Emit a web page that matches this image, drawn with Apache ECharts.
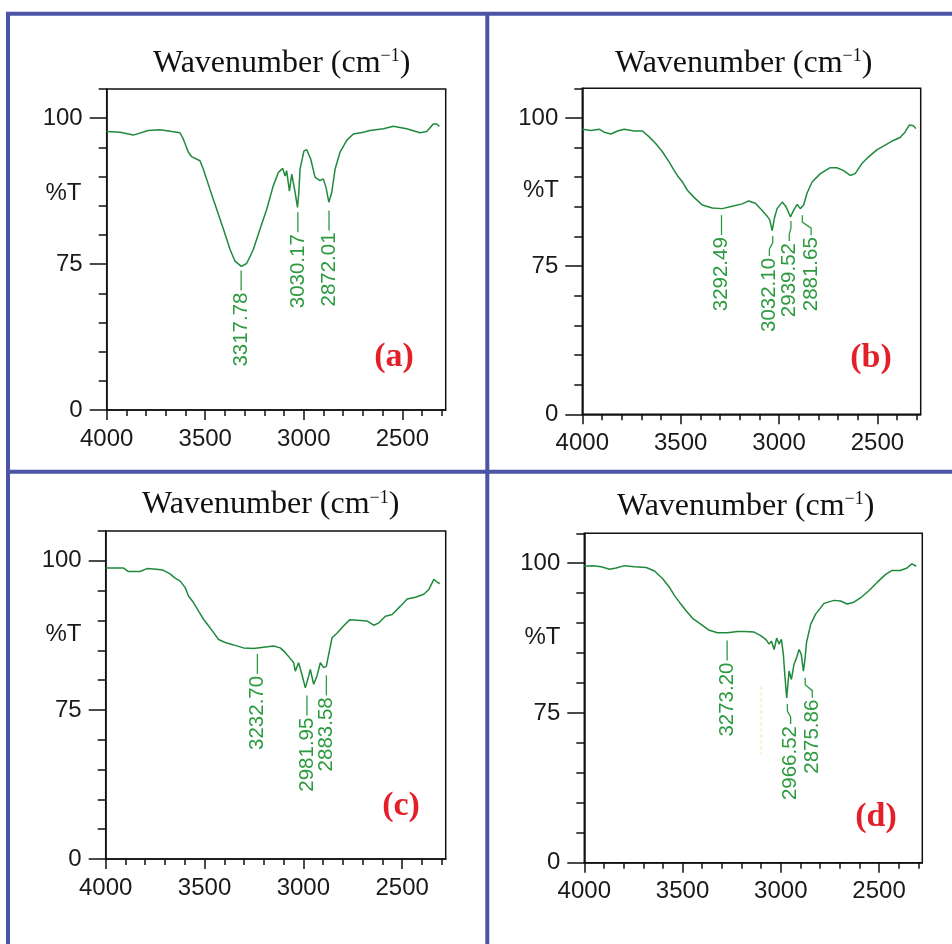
<!DOCTYPE html>
<html>
<head>
<meta charset="utf-8">
<script src="https://cdn.jsdelivr.net/npm/echarts@6/dist/echarts.min.js"></script>
<style>
html,body{margin:0;padding:0;background:#fff;}
#chart{width:952px;height:944px;}
</style>
</head>
<body>
<div id="chart"></div>
<script>
// ---------------- DATA ----------------
const xTickValues = [4000, 3500, 3000, 2500];
const yTickValues = [50, 75, 100];
const yTickLabels = ['0', '75', '100'];
const panelLetters = ['(a)', '(b)', '(c)', '(d)'];

// Panel (a)
const wnA = [4000,3932,3865,3789,3730,3670,3628,3611,3586,3569,3527,3510,3476,3442,3408,3374,3349,3317,3290,3256,3222,3188,3155,3129,3107,3095,3087,3073,3061,3053,3044,3032,3025,3019,2999,2985,2965,2943,2918,2901,2887,2873,2858,2841,2816,2782,2749,2698,2664,2596,2546,2478,2410,2376,2343,2326,2312];
const tA  = [97.7,97.6,97.1,97.9,98.0,97.7,97.5,96.4,94.2,93.4,92.7,91.3,87.8,84.4,81.0,77.5,75.5,74.6,75.1,77.5,81.0,84.4,88.4,90.7,91.4,90.1,91.0,87.5,90.4,90.7,87.3,84.7,87.3,91.3,94.4,94.6,93.0,89.9,89.3,89.6,88.1,85.6,87.3,91.3,94.2,96.2,97.3,97.6,97.9,98.2,98.6,98.2,97.5,97.7,99.0,99.0,98.6];
const peaksA = ['3317.78', '3030.17', '2872.01'];
const peakTA = [73.9, 83.9, 84.2];
const peakTextWnA = [3317.78, 3030.17, 2872.01];

// Panel (b)
const wnB = [4000,3956,3914,3889,3855,3821,3787,3736,3694,3660,3627,3593,3559,3534,3517,3491,3466,3432,3390,3339,3289,3238,3187,3154,3120,3086,3060,3047,3035,3022,3010,2984,2964,2942,2926,2908,2892,2875,2858,2832,2790,2740,2706,2672,2638,2613,2579,2546,2503,2461,2419,2385,2360,2338,2317,2305];
const tB  = [98.1,97.9,98.1,97.6,97.3,97.8,98.1,97.8,97.8,96.8,95.7,94.3,92.6,91.2,90.3,89.2,87.8,86.6,85.3,84.8,84.7,85.1,85.5,86.0,85.6,84.4,83.4,82.8,81.0,83.3,84.7,85.8,85.0,83.3,84.4,85.4,84.7,85.3,87.3,89.2,90.6,91.6,91.6,91.1,90.3,90.6,92.3,93.4,94.6,95.4,96.2,96.7,97.6,98.8,98.7,98.2];
const peaksB = ['3292.49', '3032.10', '2939.52', '2881.65'];
const peakTB = [83.6, 80.1, 82.6, 83.6];
const peakTextWnB = [3292.49, 3049, 2948, 2837];

// Panel (c)
const wnC = [4000,3911,3885,3826,3792,3742,3708,3674,3649,3623,3598,3581,3556,3531,3505,3480,3455,3429,3395,3353,3303,3252,3201,3151,3117,3091,3066,3049,3041,3024,3007,2990,2973,2965,2948,2931,2914,2897,2884,2872,2855,2829,2796,2766,2711,2677,2644,2618,2585,2551,2509,2475,2433,2391,2365,2340,2323,2310];
const tC  = [98.8,98.8,98.2,98.2,98.7,98.6,98.4,97.8,97.1,96.6,95.5,94.1,93.0,91.6,90.2,89.1,88.0,86.8,86.3,85.9,85.4,85.3,85.5,85.7,85.4,84.6,83.6,82.9,81.5,82.9,80.9,78.7,80.7,81.8,79.3,80.7,82.9,82.1,82.3,84.3,87.1,87.9,89.1,90.1,90.0,89.9,89.2,89.6,90.7,91.0,92.4,93.6,93.9,94.4,95.2,96.9,96.4,96.2];
const peaksC = ['3232.70', '2981.95', '2883.58'];
const peakTC = [84.4, 77.4, 80.8];
const peakTextWnC = [3232.70, 2981.95, 2883.58];

// Panel (d)
const wnD = [4000,3956,3914,3871,3838,3795,3744,3685,3643,3601,3567,3541,3516,3483,3449,3406,3364,3322,3271,3220,3186,3136,3102,3077,3059,3048,3034,3021,3009,2997,2987,2980,2970,2958,2946,2933,2920,2907,2896,2885,2877,2869,2848,2823,2780,2730,2696,2662,2628,2595,2552,2510,2468,2434,2392,2358,2333,2311];
const tD  = [99.5,99.6,99.4,99.0,99.2,99.6,99.4,99.3,98.7,97.4,96.0,94.6,93.5,92.1,90.8,89.8,88.8,88.4,88.4,88.6,88.6,88.5,87.9,87.3,86.5,87.0,85.6,87.5,86.5,87.3,84.8,81.5,77.5,82.0,80.6,83.1,84.2,85.6,84.8,82.0,84.0,86.8,89.8,91.5,93.3,93.8,93.7,93.2,93.5,94.2,95.4,96.8,98.1,98.8,98.8,99.2,99.9,99.5];
const peaksD = ['3273.20', '2966.52', '2875.86'];
const peakTD = [87.1, 76.5, 80.9];
const peakTextWnD = [3273.20, 2950, 2840];
const faintDashD = [[3100, 79.5], [3100, 68]];

// ---------------- LAYOUT / STYLE ----------------
const X_MIN = 4000, X_MAX = 2280, Y_MIN = 50, Y_MAX = 105;
const GRIDS = [
  {left:106.7, top:89,    width:339,   height:321},
  {left:582.3, top:88.3,  width:338.4, height:326},
  {left:105.7, top:531,   width:340,   height:328},
  {left:584.3, top:533.3, width:338,   height:329.4}
];
const TITLE_POS  = [[153,63.5],[615,63.5],[142,505],[617,506.5]];
const PCT_POS    = [[63.5,193],[541,190],[63.5,634],[542.5,637.5]];
const LETTER_POS = [[394,357],[871,358],[401,806],[876,817]];

const CURVE = '#1f8a3b';
const LABELG = '#2c9a3e';
const AXIS = '#111';
const TXT = '#1a1a1a';
const SANS = '"Liberation Sans", Arial, sans-serif';
const SERIF = '"Liberation Serif", "Times New Roman", serif';
const BORDER = '#4a55a6';

const panels = [
  {wn:wnA, t:tA, peaks:peaksA, peakT:peakTA, textWn:peakTextWnA},
  {wn:wnB, t:tB, peaks:peaksB, peakT:peakTB, textWn:peakTextWnB},
  {wn:wnC, t:tC, peaks:peaksC, peakT:peakTC, textWn:peakTextWnC},
  {wn:wnD, t:tD, peaks:peaksD, peakT:peakTD, textWn:peakTextWnD}
];

const minorX = [];
for (let v = 4000; v > X_MAX + 10; v -= 100) minorX.push(-v);
const minorY = [];
for (let v = Y_MIN; v <= Y_MAX; v += 5) minorY.push(v);

const grid = [], xAxis = [], yAxis = [], series = [], graphic = [];

panels.forEach((p, i) => {
  const g = GRIDS[i];
  grid.push({left:g.left, top:g.top, width:g.width, height:g.height, show:true,
    borderColor:AXIS, borderWidth:1.5, backgroundColor:'transparent'});
  xAxis.push({gridIndex:i, type:'value', position:'bottom', min:-X_MIN, max:-X_MAX,
    axisLine:{show:true, onZero:false, lineStyle:{color:AXIS, width:1.5}},
    axisTick:{show:true, customValues:minorX, length:6, lineStyle:{color:AXIS, width:1.5}},
    axisLabel:{show:false}, splitLine:{show:false}});
  xAxis.push({gridIndex:i, type:'value', position:'bottom', min:-X_MIN, max:-X_MAX,
    axisLine:{show:false, onZero:false},
    axisTick:{show:true, customValues:xTickValues.map(v => -v), length:10, lineStyle:{color:AXIS, width:1.5}},
    axisLabel:{show:true, customValues:xTickValues.map(v => -v), formatter:v => String(-v),
      fontSize:24, fontFamily:SANS, color:TXT, margin:17},
    splitLine:{show:false}});
  yAxis.push({gridIndex:i, type:'value', position:'left', min:Y_MIN, max:Y_MAX,
    axisLine:{show:true, onZero:false, lineStyle:{color:AXIS, width:1.5}},
    axisTick:{show:true, customValues:minorY, length:8, lineStyle:{color:AXIS, width:1.5}},
    axisLabel:{show:false}, splitLine:{show:false}});
  yAxis.push({gridIndex:i, type:'value', position:'left', min:Y_MIN, max:Y_MAX,
    axisLine:{show:false, onZero:false},
    axisTick:{show:true, customValues:yTickValues, length:17, lineStyle:{color:AXIS, width:1.5}},
    axisLabel:{show:true, customValues:yTickValues,
      formatter:v => yTickLabels[yTickValues.indexOf(v)],
      fontSize:24, fontFamily:SANS, color:TXT, margin:24},
    splitLine:{show:false}});

  series.push({type:'line', xAxisIndex:2*i, yAxisIndex:2*i, showSymbol:false, symbol:'none',
    silent:true, z:3, lineStyle:{color:CURVE, width:1.5},
    data:p.wn.map((w, k) => [-w, p.t[k]])});

  series.push({type:'custom', xAxisIndex:2*i, yAxisIndex:2*i, silent:true, z:5,
    data:p.peaks.map((s, k) => [-parseFloat(s), p.peakT[k], -p.textWn[k]]),
    renderItem:function(params, api){
      const a = api.coord([api.value(0), api.value(1)]);
      const tx = api.coord([api.value(2), api.value(1)])[0];
      const y0 = a[1], y1 = y0 + 20;
      const pts = Math.abs(tx - a[0]) < 0.6
        ? [[a[0], y0], [a[0], y1]]
        : [[a[0], y0], [a[0], y0 + 7], [tx, y0 + 13], [tx, y1]];
      return {type:'group', children:[
        {type:'polyline', shape:{points:pts}, style:{stroke:LABELG, lineWidth:1.3, fill:'none'}},
        {type:'text', x:tx, y:y1 + 2, rotation:Math.PI / 2,
          style:{text:p.peaks[params.dataIndex], fill:LABELG, font:'20.5px ' + SANS,
            align:'right', verticalAlign:'middle'}}
      ]};
    }});

  graphic.push({type:'text', x:TITLE_POS[i][0], y:TITLE_POS[i][1], silent:true,
    style:{text:'{a|Wavenumber (cm}{s|\u22121}{a|)}', align:'left', verticalAlign:'middle',
      rich:{
        a:{fontSize:32, fontFamily:SERIF, fill:'#111', lineHeight:32},
        s:{fontSize:18, fontFamily:SERIF, fill:'#111', lineHeight:27, verticalAlign:'top'}
      }}});
  graphic.push({type:'text', x:PCT_POS[i][0], y:PCT_POS[i][1], silent:true,
    style:{text:'%T', font:'24px ' + SANS, fill:TXT, align:'center', verticalAlign:'middle'}});
  graphic.push({type:'text', x:LETTER_POS[i][0], y:LETTER_POS[i][1], silent:true,
    style:{text:panelLetters[i], font:'bold 34px ' + SERIF, fill:'#e3202a', align:'center', verticalAlign:'middle'}});
});

series.push({type:'line', xAxisIndex:6, yAxisIndex:6, showSymbol:false, symbol:'none', silent:true, z:2,
  lineStyle:{color:'#f0eaa6', width:1, type:'dashed'},
  data:faintDashD.map(d => [-d[0], d[1]])});

[[6,13.8,952,13.8],[8,12,8,944],[487.3,12,487.3,944],[6,471.7,952,471.7]].forEach(l => {
  graphic.push({type:'line', silent:true, shape:{x1:l[0], y1:l[1], x2:l[2], y2:l[3]},
    style:{stroke:BORDER, lineWidth:4}});
});

const chart = echarts.init(document.getElementById('chart'), null, {renderer:'canvas'});
chart.setOption({animation:false, backgroundColor:'#fff', grid, xAxis, yAxis, series, graphic});
</script>
</body>
</html>
